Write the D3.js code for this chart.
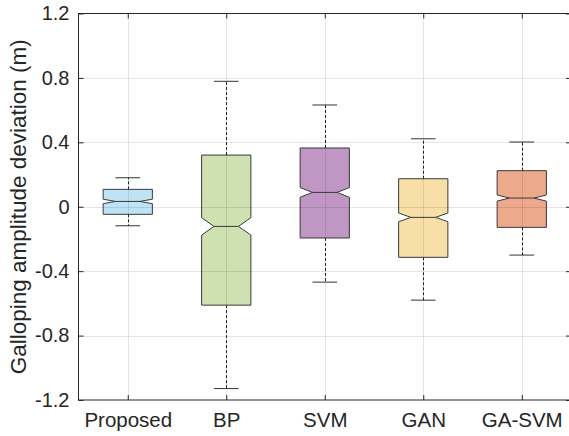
<!DOCTYPE html>
<meta charset="utf-8">
<style>
body { margin: 0; background: #fff; }
svg { font-family: "Liberation Sans", Arial, sans-serif; }
</style>
<body>
<svg id="chart" width="569" height="436"></svg>
</body>
<script src="https://cdn.jsdelivr.net/npm/d3@7"></script>
<script>
// box statistics
var methods  = ["Proposed", "BP", "SVM", "GAN", "GA-SVM"];
var whiskLo  = [-0.118, -1.129, -0.468, -0.580, -0.300];
var q1       = [-0.047, -0.611, -0.194, -0.314, -0.128];
var medians  = [ 0.033, -0.122,  0.089, -0.066,  0.054];
var q3       = [ 0.108,  0.321,  0.365,  0.174,  0.224];
var whiskHi  = [ 0.180,  0.779,  0.632,  0.422,  0.402];
var notchHalf = [0.014,  0.054,  0.030,  0.027,  0.019];
var colors   = ["#bde3f5", "#cfe0b1", "#c096c5", "#f7dfa7", "#eda98b"];
var yTicks   = [-1.2, -0.8, -0.4, 0, 0.4, 0.8, 1.2];

var margin = {top: 13.5, left: 78.5},
    width = 492.5,
    height = 386.5;

var svg = d3.select("#chart");

var x = d3.scaleLinear().domain([0.5, 5.5]).range([margin.left, margin.left + width]);
var y = d3.scaleLinear().domain([-1.2, 1.2]).range([margin.top + height, margin.top]);

var data = methods.map(function(m, i) {
  return {name: m, pos: i + 1, lo: whiskLo[i], q1: q1[i], med: medians[i], q3: q3[i],
          hi: whiskHi[i], notch: notchHalf[i], color: colors[i]};
});

var boxW = x(1.25) - x(0.75);   // half a category
var capW = x(1.125) - x(0.875);

var g = svg.append("g");

// whiskers (dashed)
g.selectAll(".whisk")
    .data(data)
  .enter().append("path")
    .attr("d", function(d) {
      var cx = Math.round(x(d.pos)) + 0.5;
      return "M" + cx + "," + y(d.q3) + "V" + y(d.hi) + "M" + cx + "," + y(d.q1) + "V" + y(d.lo);
    })
    .attr("stroke", "#222")
    .attr("stroke-width", 1)
    .attr("stroke-dasharray", "3,2")
    .attr("fill", "none");

// caps
g.selectAll(".cap")
    .data(data)
  .enter().append("path")
    .attr("d", function(d) {
      var cx = x(d.pos);
      return "M" + (cx - capW / 2) + "," + y(d.hi) + "H" + (cx + capW / 2) +
             "M" + (cx - capW / 2) + "," + y(d.lo) + "H" + (cx + capW / 2);
    })
    .attr("stroke", "#333")
    .attr("stroke-width", 1);

// notched boxes
g.selectAll(".box")
    .data(data)
  .enter().append("path")
    .attr("d", function(d) {
      var l = x(d.pos) - boxW / 2, r = x(d.pos) + boxW / 2, ind = boxW / 4;
      var pts = [
        [l, y(d.q3)], [r, y(d.q3)], [r, y(d.med + d.notch)], [r - ind, y(d.med)],
        [r, y(d.med - d.notch)], [r, y(d.q1)], [l, y(d.q1)], [l, y(d.med - d.notch)],
        [l + ind, y(d.med)], [l, y(d.med + d.notch)]
      ];
      return d3.line()(pts) + "Z";
    })
    .attr("fill", function(d) { return d.color; })
    .attr("stroke", "#3a3a3a")
    .attr("stroke-width", 1);

// medians
g.selectAll(".med")
    .data(data)
  .enter().append("line")
    .attr("x1", function(d) { return x(d.pos) - boxW / 4; })
    .attr("x2", function(d) { return x(d.pos) + boxW / 4; })
    .attr("y1", function(d) { return y(d.med); })
    .attr("y2", function(d) { return y(d.med); })
    .attr("stroke", "#3a3a3a")
    .attr("stroke-width", 1);

// grid drawn on top, faint
var grid = svg.append("g").attr("stroke", "#000").attr("stroke-opacity", 0.1).attr("stroke-width", 1);
grid.selectAll(".gy")
    .data(yTicks.slice(1, -1))
  .enter().append("line")
    .attr("x1", margin.left).attr("x2", margin.left + width)
    .attr("y1", function(d) { return Math.round(y(d)) + 0.5; })
    .attr("y2", function(d) { return Math.round(y(d)) + 0.5; });
grid.selectAll(".gx")
    .data(data)
  .enter().append("line")
    .attr("x1", function(d) { return Math.round(x(d.pos)) + 0.5; })
    .attr("x2", function(d) { return Math.round(x(d.pos)) + 0.5; })
    .attr("y1", margin.top).attr("y2", margin.top + height);

// axes, ticks inward like matlab
var yAxis = d3.axisLeft(y).tickValues(yTicks).tickSize(-5).tickPadding(9)
    .tickFormat(function(d) { return d === 0 ? "0" : d3.format(".1f")(d).replace("\u2212", "-"); });
var xAxis = d3.axisBottom(x).tickValues([1, 2, 3, 4, 5]).tickSize(-5).tickPadding(12)
    .tickFormat(function(d) { return methods[d - 1]; });

var ya = svg.append("g")
    .attr("transform", "translate(" + margin.left + ",0)")
    .call(yAxis);
var xa = svg.append("g")
    .attr("transform", "translate(0," + (margin.top + height) + ")")
    .call(xAxis);

svg.append("g")
    .attr("transform", "translate(" + (margin.left + width) + ",0)")
    .call(d3.axisRight(y).tickValues(yTicks).tickSize(-5).tickFormat(""));
svg.append("g")
    .attr("transform", "translate(0," + margin.top + ")")
    .call(d3.axisTop(x).tickValues([1, 2, 3, 4, 5]).tickSize(-5).tickFormat(""));

svg.selectAll(".domain, .tick line").attr("stroke", "#262626");
svg.selectAll(".domain").attr("d", null);

// box outline
svg.append("rect")
    .attr("x", margin.left).attr("y", margin.top)
    .attr("width", width).attr("height", height)
    .attr("fill", "none").attr("stroke", "#262626").attr("stroke-width", 1);

ya.selectAll("text").attr("font-size", 20).attr("fill", "#262626").attr("font-family", "Liberation Sans, Arial, sans-serif");
xa.selectAll("text").attr("font-size", 20.5).attr("fill", "#262626").attr("font-family", "Liberation Sans, Arial, sans-serif");

svg.append("text")
    .attr("transform", "translate(26," + (margin.top + height / 2) + ") rotate(-90)")
    .attr("text-anchor", "middle")
    .attr("font-size", 22.5)
    .attr("fill", "#262626")
    .text("Galloping amplitude deviation (m)");
</script>
